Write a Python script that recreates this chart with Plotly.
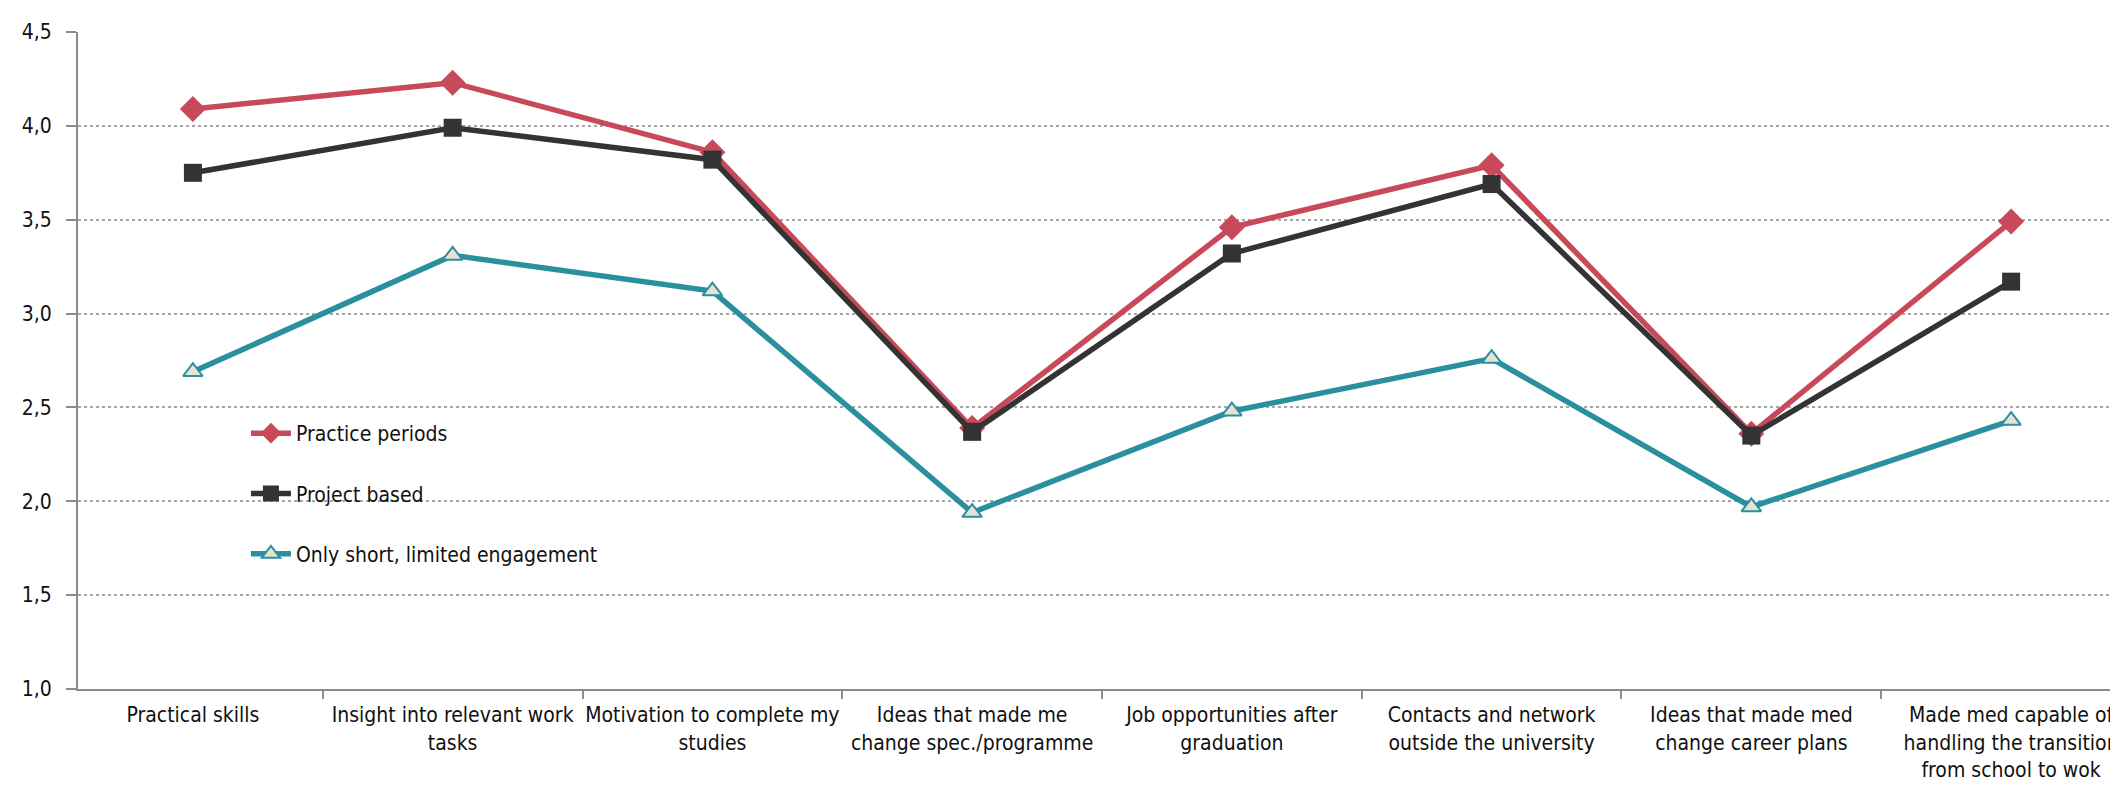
import plotly.graph_objects as go

categories = [
    "Practical skills",
    "Insight into relevant work<br>tasks",
    "Motivation to complete my<br>studies",
    "Ideas that made me<br>change spec./programme",
    "Job opportunities after<br>graduation",
    "Contacts and network<br>outside the university",
    "Ideas that made med<br>change career plans",
    "Made med capable of<br>handling the transition<br>from school to wok",
]
practice_periods = [4.09, 4.23, 3.86, 2.39, 3.46, 3.79, 2.36, 3.49]
project_based = [3.75, 3.99, 3.82, 2.37, 3.32, 3.69, 2.35, 3.17]
only_short = [2.69, 3.31, 3.12, 1.94, 2.48, 2.76, 1.97, 2.43]
y_ticks = [1.0, 1.5, 2.0, 2.5, 3.0, 3.5, 4.0, 4.5]

FONT = "Liberation Sans Narrow, Arial Narrow, DejaVu Sans Condensed, sans-serif"

series = [
    ("Practice periods", practice_periods, "#C84A5A", dict(symbol="diamond", size=20, color="#C84A5A")),
    ("Project based", project_based, "#333333", dict(symbol="square", size=18, color="#333333")),
    ("Only short, limited engagement", only_short, "#2A8F9F",
     dict(symbol="triangle-up", size=17, color="#E9E2D3", line=dict(color="#2A8F9F", width=2))),
]

fig = go.Figure()
for i, (name, vals, col, mk) in enumerate(series):
    fig.add_trace(go.Scatter(
        x=categories, y=vals, name=name, mode="lines+markers",
        line=dict(color=col, width=5.5), marker=mk, legendgroup=str(i),
    ))

fig.update_layout(
    width=2118, height=788,
    margin=dict(l=70, r=0, t=24, b=107),
    paper_bgcolor="white", plot_bgcolor="white",
    font=dict(family=FONT, size=21, color="#111111"),
    separators=",.",
    showlegend=True,
    legend=dict(x=0.082, y=0.42, xanchor="left", yanchor="top",
                bgcolor="rgba(0,0,0,0)", tracegroupgap=30,
                font=dict(size=21), itemwidth=40),
)
fig.update_xaxes(
    showgrid=False, showline=True, linecolor="#8C8C8C", linewidth=2,
    ticks="outside", tickson="boundaries", ticklen=8, tickcolor="#8C8C8C", tickwidth=2,
    tickangle=0, tickfont=dict(size=21), ticklabelstandoff=6, automargin=False,
)
fig.update_yaxes(
    range=[1, 4.5], tickvals=y_ticks, tickformat=".1f",
    showgrid=True, gridcolor="#A6A6A6", griddash="dot", gridwidth=2,
    showline=True, linecolor="#8C8C8C", linewidth=2,
    ticks="outside", ticklen=10, tickcolor="#8C8C8C", tickwidth=2,
    ticklabelstandoff=10, zeroline=False, tickfont=dict(size=21), automargin=False,
)

fig.write_html("out.html")
